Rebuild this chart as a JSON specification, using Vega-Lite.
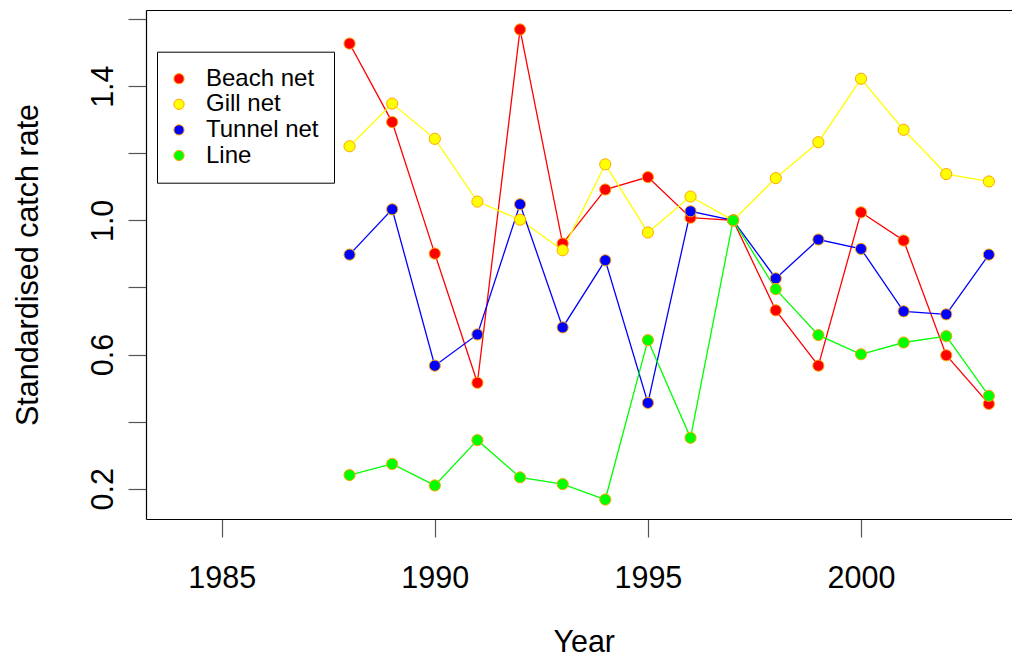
{
  "$schema": "https://vega.github.io/schema/vega-lite/v6.json",
  "autosize": {"type": "none"},
  "padding": {"left": 146, "top": 10, "right": 0, "bottom": 138},
  "width": 866,
  "height": 509,
  "background": "white",
  "config": {
    "view": {"stroke": null},
    "font": "Liberation Sans",
    "axis": {
      "labelFont": "Liberation Sans",
      "titleFont": "Liberation Sans",
      "labelFontSize": 30.5,
      "titleFontSize": 30.5,
      "labelColor": "#000",
      "titleColor": "#000",
      "titleFontWeight": "normal",
      "domainColor": "#000",
      "domainWidth": 1.2,
      "tickColor": "#555",
      "tickWidth": 1.2,
      "tickSize": 18,
      "grid": false
    },
    "legend": {
      "labelFont": "Liberation Sans",
      "labelFontSize": 24,
      "labelColor": "#000"
    }
  },
  "data": {
    "values": [
      {"year": 1988, "gear": "Beach net", "rate": 1.527},
      {"year": 1989, "gear": "Beach net", "rate": 1.293},
      {"year": 1990, "gear": "Beach net", "rate": 0.901},
      {"year": 1991, "gear": "Beach net", "rate": 0.516},
      {"year": 1992, "gear": "Beach net", "rate": 1.569},
      {"year": 1993, "gear": "Beach net", "rate": 0.931},
      {"year": 1994, "gear": "Beach net", "rate": 1.092},
      {"year": 1995, "gear": "Beach net", "rate": 1.129},
      {"year": 1996, "gear": "Beach net", "rate": 1.008},
      {"year": 1997, "gear": "Beach net", "rate": 1.0},
      {"year": 1998, "gear": "Beach net", "rate": 0.732},
      {"year": 1999, "gear": "Beach net", "rate": 0.567},
      {"year": 2000, "gear": "Beach net", "rate": 1.024},
      {"year": 2001, "gear": "Beach net", "rate": 0.94},
      {"year": 2002, "gear": "Beach net", "rate": 0.598},
      {"year": 2003, "gear": "Beach net", "rate": 0.453},
      {"year": 1988, "gear": "Gill net", "rate": 1.221},
      {"year": 1989, "gear": "Gill net", "rate": 1.348},
      {"year": 1990, "gear": "Gill net", "rate": 1.243},
      {"year": 1991, "gear": "Gill net", "rate": 1.056},
      {"year": 1992, "gear": "Gill net", "rate": 1.002},
      {"year": 1993, "gear": "Gill net", "rate": 0.911},
      {"year": 1994, "gear": "Gill net", "rate": 1.167},
      {"year": 1995, "gear": "Gill net", "rate": 0.964},
      {"year": 1996, "gear": "Gill net", "rate": 1.071},
      {"year": 1997, "gear": "Gill net", "rate": 1.0},
      {"year": 1998, "gear": "Gill net", "rate": 1.126},
      {"year": 1999, "gear": "Gill net", "rate": 1.233},
      {"year": 2000, "gear": "Gill net", "rate": 1.422},
      {"year": 2001, "gear": "Gill net", "rate": 1.27},
      {"year": 2002, "gear": "Gill net", "rate": 1.138},
      {"year": 2003, "gear": "Gill net", "rate": 1.116},
      {"year": 1988, "gear": "Tunnel net", "rate": 0.898},
      {"year": 1989, "gear": "Tunnel net", "rate": 1.033},
      {"year": 1990, "gear": "Tunnel net", "rate": 0.567},
      {"year": 1991, "gear": "Tunnel net", "rate": 0.66},
      {"year": 1992, "gear": "Tunnel net", "rate": 1.048},
      {"year": 1993, "gear": "Tunnel net", "rate": 0.681},
      {"year": 1994, "gear": "Tunnel net", "rate": 0.881},
      {"year": 1995, "gear": "Tunnel net", "rate": 0.456},
      {"year": 1996, "gear": "Tunnel net", "rate": 1.027},
      {"year": 1997, "gear": "Tunnel net", "rate": 1.0},
      {"year": 1998, "gear": "Tunnel net", "rate": 0.827},
      {"year": 1999, "gear": "Tunnel net", "rate": 0.943},
      {"year": 2000, "gear": "Tunnel net", "rate": 0.915},
      {"year": 2001, "gear": "Tunnel net", "rate": 0.729},
      {"year": 2002, "gear": "Tunnel net", "rate": 0.72},
      {"year": 2003, "gear": "Tunnel net", "rate": 0.898},
      {"year": 1988, "gear": "Line", "rate": 0.241},
      {"year": 1989, "gear": "Line", "rate": 0.274},
      {"year": 1990, "gear": "Line", "rate": 0.21},
      {"year": 1991, "gear": "Line", "rate": 0.345},
      {"year": 1992, "gear": "Line", "rate": 0.234},
      {"year": 1993, "gear": "Line", "rate": 0.214},
      {"year": 1994, "gear": "Line", "rate": 0.168},
      {"year": 1995, "gear": "Line", "rate": 0.643},
      {"year": 1996, "gear": "Line", "rate": 0.352},
      {"year": 1997, "gear": "Line", "rate": 1.0},
      {"year": 1998, "gear": "Line", "rate": 0.795},
      {"year": 1999, "gear": "Line", "rate": 0.658},
      {"year": 2000, "gear": "Line", "rate": 0.601},
      {"year": 2001, "gear": "Line", "rate": 0.636},
      {"year": 2002, "gear": "Line", "rate": 0.655},
      {"year": 2003, "gear": "Line", "rate": 0.477}
    ]
  },
  "resolve": {"axis": {"x": "independent"}},
  "layer": [
    {
      "mark": {"type": "line", "strokeWidth": 1.3},
      "encoding": {
        "x": {
          "field": "year",
          "type": "quantitative",
          "scale": {"domain": [1983.224, 2003.543], "nice": false, "zero": false},
          "axis": {
            "orient": "bottom",
            "values": [1985, 1990, 1995, 2000],
            "format": "d",
            "labelBaseline": "alphabetic",
            "labelPadding": 50,
            "labelFlush": false,
            "labelOverlap": false,
            "title": "Year",
            "titleBaseline": "alphabetic",
            "titleX": 437.7,
            "titleY": 132
          }
        },
        "y": {
          "field": "rate",
          "type": "quantitative",
          "scale": {"domain": [0.11, 1.627], "nice": false, "zero": false},
          "axis": {
            "values": [0.2, 0.4, 0.6, 0.8, 1.0, 1.2, 1.4, 1.6],
            "labelExpr": "indexof(['0.2','0.6','1.0','1.4'], format(datum.value, '.1f')) >= 0 ? format(datum.value, '.1f') : ''",
            "labelAngle": -90,
            "labelAlign": "center",
            "labelBaseline": "alphabetic",
            "labelPadding": 16,
            "labelFlush": false,
            "labelOverlap": false,
            "title": "Standardised catch rate",
            "titleAngle": -90,
            "titleBaseline": "alphabetic",
            "titleAlign": "center",
            "titleX": -109,
            "titleY": 254.5
          }
        },
        "stroke": {
          "field": "gear",
          "type": "nominal",
          "scale": {
            "domain": ["Line", "Tunnel net", "Gill net", "Beach net"],
            "range": ["#00FF00", "#0000FF", "#FFFF00", "#FF0000"]
          },
          "legend": null
        }
      }
    },
    {
      "mark": {"type": "point", "filled": true, "size": 125, "stroke": "#FFA500", "strokeWidth": 1, "opacity": 1},
      "encoding": {
        "x": {
          "field": "year",
          "type": "quantitative",
          "axis": {
            "orient": "top",
            "ticks": false,
            "labels": false,
            "title": null,
            "domain": true
          }
        },
        "y": {"field": "rate", "type": "quantitative"},
        "fill": {
          "field": "gear",
          "type": "nominal",
          "scale": {
            "domain": ["Beach net", "Gill net", "Tunnel net", "Line"],
            "range": ["#FF0000", "#FFFF00", "#0000FF", "#00FF00"]
          },
          "legend": {
            "orient": "none",
            "legendX": 11,
            "legendY": 41.7,
            "title": null,
            "direction": "vertical",
            "fillColor": "white",
            "strokeColor": "#000",
            "padding": 15,
            "labelFontSize": 24,
            "labelOffset": 15,
            "rowPadding": 1.6,
            "symbolType": "circle",
            "symbolSize": 105,
            "symbolOffset": -5,
            "symbolStrokeColor": "#FFA500",
            "symbolStrokeWidth": 1,
            "symbolOpacity": 1
          }
        }
      }
    }
  ]
}
